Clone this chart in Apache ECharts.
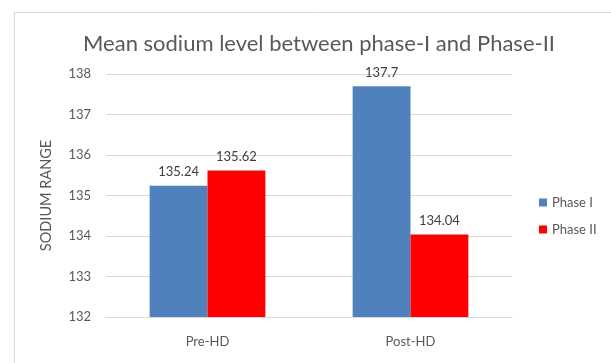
<!DOCTYPE html>
<html>
<head>
<meta charset="utf-8">
<script src="https://cdn.jsdelivr.net/npm/echarts@6/dist/echarts.min.js"></script>
<style>
  html, body { margin: 0; padding: 0; background: #fff; }
  #chart { width: 611px; height: 363px; }
</style>
</head>
<body>
<div id="chart"></div>
<script>
// Mean sodium values by dialysis timing
const categories = ['Pre-HD', 'Post-HD'];
const phaseI = [135.24, 137.7];
const phaseII = [135.62, 134.04];
const seriesNames = ['Phase I', 'Phase II'];

const FONT = 'Lato, "Open Sans", sans-serif';
const TEXT = '#595959';

const chart = echarts.init(document.getElementById('chart'), null, { renderer: 'canvas' });

const labelStyle = {
  show: true,
  position: 'top',
  distance: 7,
  color: '#404040',
  fontFamily: FONT,
  fontSize: 13
};

chart.setOption({
  animation: false,
  backgroundColor: '#ffffff',
  title: {
    text: 'Mean sodium level between phase-I and Phase-II',
    left: 314,
    textAlign: 'center',
    top: 28,
    textStyle: { fontFamily: FONT, fontSize: 22, fontWeight: 'normal', color: TEXT }
  },
  graphic: [{
    type: 'rect',
    shape: { x: 14.5, y: 12.5, width: 700, height: 500 },
    style: { fill: 'none', stroke: '#d9d9d9', lineWidth: 1 },
    silent: true
  }],
  legend: {
    orient: 'vertical',
    left: 534,
    top: 191,
    itemWidth: 8,
    itemHeight: 8,
    itemGap: 14,
    icon: 'rect',
    textStyle: { fontFamily: FONT, fontSize: 13, color: TEXT },
    data: seriesNames
  },
  grid: { left: 106, right: 99, top: 74, bottom: 46, containLabel: false },
  xAxis: {
    type: 'category',
    data: categories,
    axisLine: { lineStyle: { color: '#d9d9d9', width: 1 } },
    axisTick: { show: false },
    axisLabel: { fontFamily: FONT, fontSize: 13, color: TEXT, margin: 18 }
  },
  yAxis: {
    type: 'value',
    min: 132,
    max: 138,
    interval: 1,
    name: 'SODIUM RANGE',
    nameLocation: 'middle',
    nameGap: 52,
    nameTextStyle: { fontFamily: FONT, fontSize: 14.5, color: TEXT },
    axisLine: { show: false },
    axisTick: { show: false },
    axisLabel: { fontFamily: FONT, fontSize: 13, color: TEXT, margin: 15 },
    splitLine: { lineStyle: { color: '#d9d9d9', width: 1 } }
  },
  series: [
    {
      name: seriesNames[0],
      type: 'bar',
      data: phaseI,
      barGap: '0%',
      barCategoryGap: '43%',
      itemStyle: { color: '#4f81bd' },
      label: labelStyle
    },
    {
      name: seriesNames[1],
      type: 'bar',
      data: phaseII,
      barGap: '0%',
      barCategoryGap: '43%',
      itemStyle: { color: '#ff0000' },
      label: labelStyle
    }
  ]
});
</script>
</body>
</html>
